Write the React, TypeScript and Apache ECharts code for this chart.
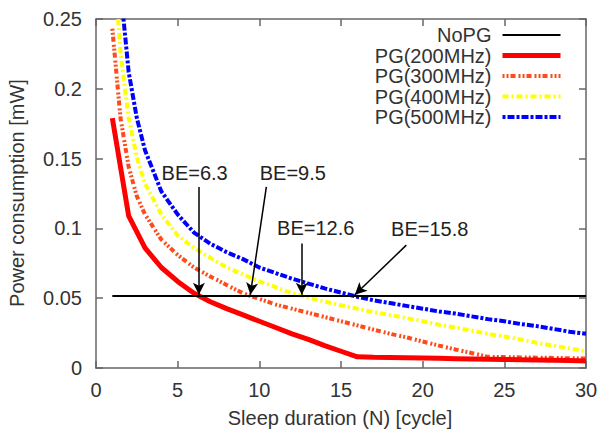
import React, { useEffect, useRef } from "react";
import * as echarts from "echarts";

// Sleep duration samples (cycles)
const redN = [1, 2, 3, 4, 5, 6, 7, 8, 9, 10, 11, 12, 13, 14, 15, 16, 17, 18, 19, 20, 21, 22, 23, 24, 25, 26, 27, 28, 29, 30];
const curveN = [1, 1.5, 2, 2.5, 3, 4, 5, 6, 7, 8, 9, 10, 11, 12, 13, 14, 15, 16, 17, 18, 19, 20, 21, 22, 23, 24, 25, 26, 27, 28, 29, 30];
const noPGN = [1, 30];

// Power consumption [mW]
const noPG = [0.0515, 0.0515];
const pg200 = [0.179, 0.109, 0.086, 0.072, 0.062, 0.0535, 0.0475, 0.0425, 0.038, 0.0335, 0.029, 0.0245, 0.0205, 0.016, 0.012, 0.008, 0.0077, 0.0075, 0.0073, 0.0071, 0.0069, 0.0067, 0.0065, 0.0063, 0.0061, 0.0059, 0.0057, 0.0055, 0.0053, 0.0051];
const pg300 = [0.243, 0.179, 0.144, 0.123, 0.11, 0.092, 0.081, 0.072, 0.0655, 0.0595, 0.0535, 0.0495, 0.0455, 0.0425, 0.0395, 0.0365, 0.0335, 0.0305, 0.0275, 0.0245, 0.022, 0.019, 0.016, 0.0133, 0.0107, 0.008, 0.0078, 0.0076, 0.0074, 0.0072, 0.007, 0.0068];
const pg400 = [0.31, 0.226, 0.179, 0.151, 0.132, 0.11, 0.095, 0.086, 0.079, 0.072, 0.067, 0.062, 0.058, 0.0535, 0.0505, 0.0475, 0.045, 0.0425, 0.04, 0.038, 0.0357, 0.0335, 0.031, 0.029, 0.0268, 0.0245, 0.0225, 0.0205, 0.018, 0.016, 0.014, 0.012];
const pg500 = [0.32, 0.272, 0.212, 0.179, 0.156, 0.1265, 0.11, 0.097, 0.089, 0.083, 0.078, 0.072, 0.068, 0.064, 0.0605, 0.057, 0.054, 0.051, 0.0485, 0.0465, 0.0445, 0.0425, 0.0405, 0.039, 0.037, 0.035, 0.0335, 0.0315, 0.03, 0.028, 0.026, 0.0245];

// Break-even annotations
const beLabels = ["BE=6.3", "BE=9.5", "BE=12.6", "BE=15.8"];
const beLabelPos = [[6.04, 0.1394], [12.05, 0.1396], [13.45, 0.1002], [20.43, 0.0999]];
const beArrowStart = [[6.3, 0.1296], [10.43, 0.1298], [12.6, 0.0892], [19.0, 0.088]];
const beArrowEnd = [[6.3, 0.0525], [9.45, 0.0525], [12.6, 0.0525], [15.85, 0.0525]];

const seriesNames = ["NoPG", "PG(200MHz)", "PG(300MHz)", "PG(400MHz)", "PG(500MHz)"];

const FONT = "Liberation Sans, Arial, Helvetica, sans-serif";
const FRAME = "#666";
const TEXT = "#333";

const zip = (xs: number[], ys: number[]) => xs.map((x, i) => [x, ys[i]]);

export default function App() {
  const ref = useRef<HTMLDivElement>(null);
  useEffect(() => {
    if (!ref.current) return;
    const chart = echarts.init(ref.current, undefined, { renderer: "svg" });
    const axisCommon = {
      type: "value" as const,
      axisLine: { show: true, onZero: false, lineStyle: { color: FRAME, width: 1.5 } },
      axisTick: { show: true, inside: true, length: 7, lineStyle: { color: FRAME, width: 1.5 } },
      splitLine: { show: false },
    };
    chart.setOption({
      animation: false,
      backgroundColor: "#fff",
      textStyle: { fontFamily: FONT },
      grid: { left: 96, right: 18, top: 19, bottom: 63, containLabel: false },
      xAxis: [
        {
          ...axisCommon,
          position: "bottom",
          min: 0,
          max: 30,
          interval: 5,
          axisLabel: { fontSize: 20, color: TEXT, margin: 12, fontFamily: FONT },
        },
        {
          ...axisCommon,
          position: "top",
          min: 0,
          max: 30,
          interval: 5,
          axisLabel: { show: false },
        },
      ],
      yAxis: [
        {
          ...axisCommon,
          position: "left",
          min: 0,
          max: 0.25,
          interval: 0.05,
          axisLabel: { fontSize: 20, color: TEXT, margin: 14, fontFamily: FONT },
        },
        {
          ...axisCommon,
          position: "right",
          min: 0,
          max: 0.25,
          interval: 0.05,
          axisLabel: { show: false },
        },
      ],
      legend: {
        data: seriesNames,
        orient: "vertical",
        align: "right",
        right: 36,
        top: 20,
        itemWidth: 58,
        itemHeight: 12,
        itemGap: 0.5,
        itemStyle: { opacity: 0 },
        lineStyle: { width: "inherit" },
        textStyle: { fontSize: 20, color: TEXT, fontFamily: FONT, padding: [0, 6, 0, 0] },
        selectedMode: false,
      },
      graphic: [
        {
          type: "text",
          x: 17,
          y: 193,
          rotation: Math.PI / 2,
          style: {
            text: "Power consumption [mW]",
            fontSize: 20,
            fontFamily: FONT,
            fill: TEXT,
            textAlign: "center",
            textVerticalAlign: "middle",
          },
        },
        {
          type: "text",
          x: 340,
          y: 418,
          style: {
            text: "Sleep duration (N) [cycle]",
            fontSize: 20,
            fontFamily: FONT,
            fill: TEXT,
            textAlign: "center",
            textVerticalAlign: "middle",
          },
        },
      ],
      series: [
        {
          name: seriesNames[0],
          type: "line",
          data: zip(noPGN, noPG),
          symbol: "none",
          lineStyle: { color: "#000", width: 2 },
          itemStyle: { color: "#000" },
          z: 5,
          markLine: {
            silent: true,
            symbol: ["none", "arrow"],
            symbolSize: [9, 12],
            label: { show: false },
            lineStyle: { color: "#000", width: 1.5, type: "solid" },
            emphasis: { disabled: true },
            data: beArrowStart.map((s, i) => [{ coord: s }, { coord: beArrowEnd[i] }]),
          },
        },
        {
          name: seriesNames[1],
          type: "line",
          data: zip(redN, pg200),
          symbol: "none",
          lineStyle: { color: "#ff0000", width: 5 },
          itemStyle: { color: "#ff0000" },
          z: 3,
        },
        {
          name: seriesNames[2],
          type: "line",
          data: zip(curveN, pg300),
          symbol: "none",
          lineStyle: { color: "#ff4a1a", width: 4, type: [2, 2, 2, 2, 5, 3] },
          itemStyle: { color: "#ff4a1a" },
          z: 2,
        },
        {
          name: seriesNames[3],
          type: "line",
          data: zip(curveN, pg400),
          symbol: "none",
          lineStyle: { color: "#ffff00", width: 4, type: [6, 3, 2, 3] },
          itemStyle: { color: "#ffff00" },
          z: 2,
        },
        {
          name: seriesNames[4],
          type: "line",
          data: zip(curveN, pg500),
          symbol: "none",
          lineStyle: { color: "#0000ff", width: 4, type: [3, 2, 7, 2] },
          itemStyle: { color: "#0000ff" },
          z: 2,
        },
        {
          name: "annotations",
          type: "scatter",
          data: beLabelPos.map((p, i) => [p[0], p[1], beLabels[i]]),
          symbolSize: 1,
          itemStyle: { color: "rgba(0,0,0,0)" },
          silent: true,
          z: 6,
          label: {
            show: true,
            position: "inside",
            formatter: (p: any) => p.data[2],
            fontSize: 20,
            color: "#222",
            opacity: 1,
            textBorderWidth: 0,
            fontFamily: FONT,
          },
        },
      ],
    });
    return () => chart.dispose();
  }, []);
  return (
    <div
      ref={ref}
      style={{ position: "absolute", left: 0, top: 0, width: 604, height: 431 }}
    />
  );
}
